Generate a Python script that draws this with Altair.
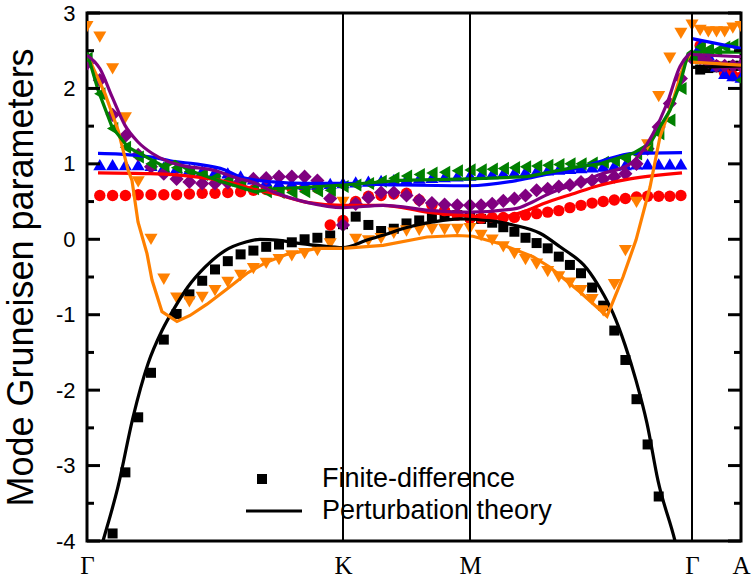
import altair as alt
import pandas as pd

# ---- path geometry (distance along Γ-K-M-Γ-A) ----
SEG_LEN = [256, 127, 222, 49]
SEG_N = [20, 10, 20, 6]
TICK_POS = [0, 256, 383, 605, 654]
TICK_LAB = ["Γ", "K", "M", "Γ", "A"]
VLINES = [256, 383, 605]

def qgrid():
    xs = [0.0]
    start = 0.0
    for L, n in zip(SEG_LEN, SEG_N):
        for i in range(1, n + 1):
            xs.append(start + L * i / n)
        start += L
    return xs

QX = qgrid()

# ---- finite-difference markers (Γ-K, K-M, M-Γ, Γ-A) ----
black_pts = [None, None, -3.90, -3.09, -2.36, -1.77, -1.33, -0.99, -0.73, -0.55, -0.40, -0.29, -0.20, -0.15, -0.10, -0.07, -0.04, 0.00, 0.02, 0.05, 0.20] \
    + [0.30, 0.19, 0.11, 0.14, 0.21, 0.25, 0.30, 0.32, 0.32, 0.30] \
    + [0.27, 0.22, 0.16, 0.10, 0.02, -0.05, -0.12, -0.23, -0.34, -0.45, -0.64, -0.88, -1.21, -1.60, -2.12, -2.72, -3.41, None, None, None] \
    + [2.25, 2.27, 2.28, 2.29, 2.30, 2.30]
orange_pts = [2.82, 2.68, 2.26, 1.61, 0.76, 0.00, -0.53, -0.78, -0.83, -0.77, -0.68, -0.57, -0.48, -0.39, -0.32, -0.27, -0.22, -0.19, -0.15, -0.06, 0.49] \
    + [0.00, -0.02, 0.01, 0.08, 0.11, 0.12, 0.13, 0.13, 0.13, 0.14] \
    + [0.05, -0.01, -0.10, -0.19, -0.27, -0.33, -0.43, -0.50, -0.58, -0.68, -0.80, -0.95, -0.60, -0.15, 0.49, 1.25, 1.89, 2.40, 2.73, 2.84] \
    + [2.77, 2.75, 2.75, 2.75, 2.80, 2.82]
red_pts = [None, 0.58, 0.58, 0.58, 0.59, 0.59, 0.59, 0.59, 0.60, 0.61, 0.61, 0.62, 0.63, 0.65, 0.66, 0.67, 0.68, 0.68, 0.68, 0.19, 0.25] \
    + [0.50, 0.57, 0.58, 0.60, 0.61, 0.52, 0.45, 0.38, 0.32, 0.28] \
    + [0.28, 0.29, 0.29, 0.29, 0.32, 0.34, 0.36, 0.38, 0.42, 0.45, 0.48, 0.50, 0.52, 0.54, 0.56, 0.57, 0.57, 0.57, 0.58, None] \
    + [2.57, 2.45, 2.30, 2.20, 2.17, 2.15]
blue_pts = [None, 0.99, 0.99, 0.99, 0.99, 0.98, 0.96, 0.95, 0.93, 0.91, 0.90, 0.88, 0.84, 0.80, 0.77, 0.75, 0.74, 0.73, 0.73, 0.74, 0.75] \
    + [0.76, 0.77, 0.78, 0.79, 0.80, 0.81, 0.82, 0.83, 0.84, 0.85] \
    + [0.86, 0.87, 0.88, 0.89, 0.90, 0.91, 0.92, 0.93, 0.94, 0.95, 0.96, 0.97, 0.98, 0.99, 1.00, 1.00, 1.00, 1.00, 1.00, None] \
    + [2.57, 2.45, 2.30, 2.20, 2.17, 2.15]
purple_pts = [2.33, 2.11, 1.65, 1.37, 1.12, 0.96, 0.87, 0.80, 0.76, 0.74, 0.74, 0.75, 0.77, 0.80, 0.81, 0.83, 0.83, 0.83, 0.78, 0.54, 0.19] \
    + [0.47, 0.55, 0.62, 0.62, 0.58, 0.52, 0.48, 0.46, 0.45, 0.45] \
    + [0.45, 0.47, 0.51, 0.54, 0.58, 0.65, 0.67, 0.70, 0.72, 0.76, 0.78, 0.80, 0.83, 0.87, 1.00, 1.20, 1.49, 1.80, 2.13, 2.40] \
    + [2.40, 2.35, 2.30, 2.30, 2.30, 2.30]
green_pts = [2.40, 1.93, 1.47, 1.22, 1.09, 1.00, 0.97, 0.95, 0.90, 0.86, 0.82, 0.78, 0.72, 0.67, 0.63, 0.62, 0.62, 0.63, 0.64, 0.65, 0.70] \
    + [0.72, 0.74, 0.77, 0.81, 0.84, 0.86, 0.88, 0.89, 0.91, 0.92] \
    + [0.92, 0.93, 0.94, 0.95, 0.96, 0.97, 0.98, 0.99, 1.00, 1.00, 1.01, 1.02, 1.04, 1.07, 1.13, 1.22, 1.40, 1.58, 2.00, 2.40] \
    + [2.55, 2.52, 2.50, 2.55, 2.58, 2.11]

# ---- perturbation-theory curves (x along path, y) ----
black_lx = [5, 16, 31, 46, 61, 75, 88, 101, 118, 138, 158, 173, 190, 210, 230, 256, 280, 300, 313, 330, 346, 373, 400, 426, 453, 473, 500, 513, 526, 538, 549, 560, 571, 588, 595]
black_ly = [-4.5, -4.0, -3.28, -2.36, -1.65, -1.21, -0.90, -0.63, -0.37, -0.15, -0.04, 0.00, -0.01, -0.05, -0.08, -0.11, -0.01, 0.07, 0.13, 0.19, 0.23, 0.27, 0.25, 0.19, 0.08, -0.10, -0.39, -0.65, -0.98, -1.40, -1.87, -2.44, -3.20, -4.0, -4.4]
orange_lx = [0, 18, 31, 41, 45, 51, 60, 65, 75, 90, 103, 120, 140, 160, 180, 200, 230, 256, 296, 340, 370, 386, 413, 446, 463, 493, 520, 536, 549, 563, 573, 586, 596, 603, 605]
orange_ly = [2.45, 1.93, 1.45, 0.92, 0.78, 0.23, -0.19, -0.54, -0.96, -1.09, -1.01, -0.86, -0.66, -0.45, -0.30, -0.20, -0.12, -0.12, -0.08, 0.03, 0.05, 0.04, -0.06, -0.23, -0.37, -0.70, -1.02, -0.50, -0.01, 0.69, 1.36, 1.84, 2.28, 2.46, 2.48]
red_lx = [11, 63, 113, 153, 165, 186, 220, 256, 296, 340, 383, 410, 440, 456, 490, 506, 543, 595]
red_ly = [0.88, 0.87, 0.82, 0.72, 0.67, 0.61, 0.49, 0.45, 0.45, 0.36, 0.31, 0.29, 0.38, 0.47, 0.62, 0.69, 0.80, 0.88]
blue_lx = [11, 33, 65, 88, 108, 138, 153, 186, 220, 256, 313, 383, 430, 463, 490, 513, 546, 595]
blue_ly = [1.14, 1.13, 1.09, 1.03, 1.00, 0.92, 0.83, 0.76, 0.74, 0.74, 0.72, 0.71, 0.78, 0.87, 0.94, 1.03, 1.14, 1.15]
green_lx = [0, 11, 25, 41, 65, 78, 88, 101, 131, 168, 186, 220, 256, 313, 383, 440, 490, 513, 546, 563, 573, 583, 593, 601, 605]
green_ly = [2.48, 1.98, 1.49, 1.22, 1.05, 0.96, 1.03, 0.92, 0.78, 0.63, 0.67, 0.69, 0.72, 0.78, 0.80, 0.83, 0.96, 1.00, 1.14, 1.27, 1.49, 1.71, 2.06, 2.46, 2.50]
purple_lx = [0, 13, 25, 38, 51, 65, 81, 98, 125, 153, 165, 186, 220, 256, 296, 346, 383, 430, 440, 463, 490, 513, 543, 566, 580, 593, 601, 605]
purple_ly = [2.44, 2.26, 1.89, 1.51, 1.29, 1.14, 1.03, 0.97, 0.92, 0.80, 0.76, 0.63, 0.49, 0.42, 0.45, 0.38, 0.36, 0.41, 0.46, 0.61, 0.74, 0.86, 1.00, 1.40, 1.80, 2.29, 2.44, 2.48]
# Γ-A branch of the curves
ga_lx = [605, 654]
black_ga = [2.28, 2.30]
orange_ga = [2.35, 2.31]
blue_ga = [2.66, 2.53]
green_ga = [2.48, 2.48]
purple_ga = [2.45, 2.42]

Y_MAJOR = [-4, -3, -2, -1, 0, 1, 2, 3]
Y_MINOR = [-3.5, -2.5, -1.5, -0.5, 0.5, 1.5, 2.5]

ORANGE, RED, BLUE, GREEN, PURPLE = "#FF8000", "#FF0000", "#0000FF", "#008000", "#800080"

W, H = 654, 528
xs = alt.Scale(domain=[0, 654], nice=False, zero=False)
ys = alt.Scale(domain=[-4, 3], nice=False, zero=False)

label_expr = "{" + ",".join(f"'{p}':'{l}'" for p, l in zip(TICK_POS, TICK_LAB)) + "}[datum.value]"
XAXIS = alt.Axis(values=TICK_POS, labelExpr=label_expr, ticks=False, tickSize=0,
                 domain=False, grid=False, title=None, labelFont="Liberation Serif",
                 labelFontSize=25, labelPadding=12, labelColor="black",
                 labelFlush=False, labelOverlap=False, labelAngle=0)
YAXIS = alt.Axis(values=Y_MAJOR, ticks=False, tickSize=0, domain=False, grid=False,
                 labelExpr="datum.value < 0 ? '-' + abs(datum.value) : '' + datum.value",
                 labelFont="Liberation Sans", labelFontSize=22, labelPadding=12, labelColor="black",
                 labelFlush=False, labelOverlap=False,
                 title="Mode Gruneisen parameters", titleFont="Liberation Sans", titleFontSize=36,
                 titleFontWeight="normal", titleColor="black", titleAngle=-90, titleX=-66, titleY=H / 2,
                 titleAlign="center", titleBaseline="middle")


def X():
    return alt.X("x:Q", scale=xs, axis=XAXIS)


def Y():
    return alt.Y("y:Q", scale=ys, axis=YAXIS)


def markers(vals, shape, color, size):
    df = pd.DataFrame({"x": QX, "y": vals}).dropna()
    return alt.Chart(df).mark_point(filled=True, shape=shape, color=color, size=size,
                                    opacity=1, strokeWidth=0, clip=True).encode(x=X(), y=Y())


def curve(lx, ly, color, interp="monotone"):
    df = pd.DataFrame({"x": lx, "y": ly})
    return alt.Chart(df).mark_line(color=color, strokeWidth=3.2, interpolate=interp, clip=True).encode(
        x=X(), y=Y())


layers = [
    markers(black_pts, "square", "black", 100),
    markers(red_pts, "circle", RED, 130),
    markers(blue_pts, "triangle-up", BLUE, 170),
    markers(purple_pts, "diamond", PURPLE, 200),
    markers(green_pts, "triangle-left", GREEN, 170),
    markers(orange_pts, "triangle-down", ORANGE, 170),
    curve(black_lx, black_ly, "black"),
    curve(red_lx, red_ly, RED),
    curve(blue_lx, blue_ly, BLUE),
    curve(orange_lx, orange_ly, ORANGE, "linear"),
    curve(green_lx, green_ly, GREEN, "linear"),
    curve(purple_lx, purple_ly, PURPLE),
    curve(ga_lx, black_ga, "black", "linear"),
    curve(ga_lx, orange_ga, ORANGE, "linear"),
    curve(ga_lx, blue_ga, BLUE, "linear"),
    curve(ga_lx, green_ga, GREEN, "linear"),
    curve(ga_lx, purple_ga, PURPLE, "linear"),
]

# vertical high-symmetry lines
layers.append(alt.Chart(pd.DataFrame({"x": VLINES})).mark_rule(color="black", strokeWidth=2).encode(x=X()))

# y axis ticks (inward, both sides)
maj = pd.DataFrame({"y": Y_MAJOR})
mnr = pd.DataFrame({"y": Y_MINOR})
for df, ln in ((maj, 13), (mnr, 7)):
    layers.append(alt.Chart(df).mark_rule(color="black", strokeWidth=3).encode(
        y=Y(), x=alt.value(0), x2=alt.value(ln)))
    layers.append(alt.Chart(df).mark_rule(color="black", strokeWidth=3).encode(
        y=Y(), x=alt.value(W - ln), x2=alt.value(W)))

# legend
one = pd.DataFrame({"a": [0]})
layers.append(alt.Chart(one).mark_point(shape="square", filled=True, color="black", size=100, opacity=1).encode(
    x=alt.value(175), y=alt.value(466)))
layers.append(alt.Chart(one).mark_rule(color="black", strokeWidth=3).encode(
    x=alt.value(159), x2=alt.value(215), y=alt.value(498)))
layers.append(alt.Chart(pd.DataFrame({"t": ["Finite-difference"]})).mark_text(
    align="left", baseline="middle", font="Liberation Sans", fontSize=27, color="black").encode(
    text="t:N", x=alt.value(235), y=alt.value(466)))
layers.append(alt.Chart(pd.DataFrame({"t": ["Perturbation theory"]})).mark_text(
    align="left", baseline="middle", font="Liberation Sans", fontSize=27, color="black").encode(
    text="t:N", x=alt.value(235), y=alt.value(498)))

chart = alt.layer(*layers).properties(
    width=W, height=H,
    autosize=alt.AutoSizeParams(type="none"),
    padding={"left": 87, "top": 13, "right": 11, "bottom": 41},
    background="white",
).configure_view(stroke="black", strokeWidth=3)

chart.save("out.html", embed_options={"renderer": "svg", "actions": False})
